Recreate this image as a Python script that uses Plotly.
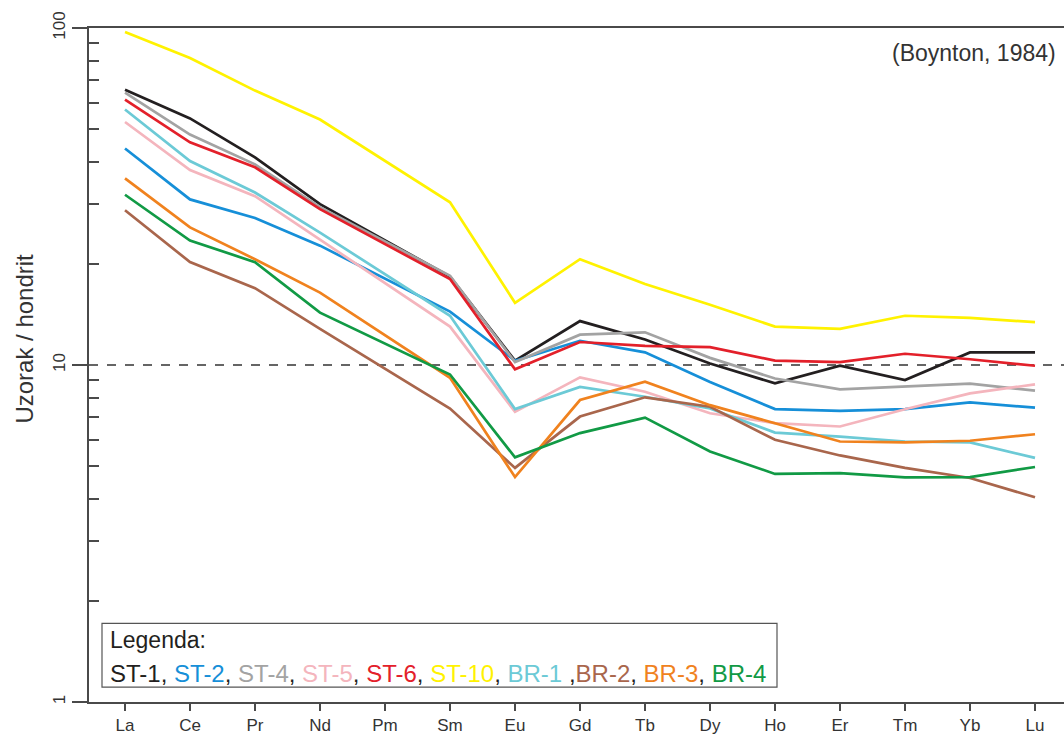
import plotly.graph_objects as go

elements = ["La", "Ce", "Pr", "Nd", "Pm", "Sm", "Eu", "Gd", "Tb", "Dy", "Ho", "Er", "Tm", "Yb", "Lu"]

st1 = [65.6, 53.9, 41.3, 30.0, None, 18.3, 10.3, 13.5, 11.9, 10.1, 8.82, 9.95, 9.02, 10.9, 10.9]
st2 = [43.9, 31.0, 27.3, 22.6, None, 14.4, 10.3, 11.8, 10.9, 8.9, 7.40, 7.31, 7.40, 7.75, 7.47]
st4 = [64.3, 48.3, 39.4, 29.4, None, 18.4, 10.2, 12.3, 12.5, 10.5, 9.12, 8.47, 8.62, 8.80, 8.39]
st5 = [52.6, 37.9, 31.7, 23.6, None, 13.0, 7.26, 9.19, 8.33, 7.19, 6.72, 6.57, 7.39, 8.24, 8.76]
st6 = [61.3, 45.8, 38.6, 29.0, None, 18.0, 9.71, 11.7, 11.4, 11.3, 10.3, 10.2, 10.8, 10.4, 9.95]
st10 = [97.3, 81.5, 65.2, 53.5, None, 30.4, 15.3, 20.6, 17.4, 15.1, 13.0, 12.8, 14.0, 13.8, 13.4]
br1 = [57.3, 40.3, 32.5, 24.7, None, 14.0, 7.40, 8.61, 8.05, 7.43, 6.30, 6.13, 5.93, 5.89, 5.30]
br2 = [28.8, 20.2, 16.9, 12.8, None, 7.43, 4.95, 7.03, 8.02, 7.52, 6.00, 5.39, 4.95, 4.62, 4.05]
br3 = [35.8, 25.6, 20.6, 16.4, None, 9.16, 4.65, 7.87, 8.92, 7.60, 6.72, 5.93, 5.89, 5.96, 6.23]
br4 = [32.0, 23.4, 20.2, 14.3, None, 9.37, 5.32, 6.28, 6.98, 5.54, 4.75, 4.78, 4.64, 4.65, 4.98]

names = ["ST-1", "ST-2", "ST-4", "ST-5", "ST-6", "ST-10", "BR-1", "BR-2", "BR-3", "BR-4"]
series = [st1, st2, st4, st5, st6, st10, br1, br2, br3, br4]
colors = ["#231f20", "#168fd8", "#a3a3a3", "#f4b5bd", "#e3202a", "#fff200",
          "#6ccad6", "#a9664c", "#f0821e", "#119a45"]

FONT = "Liberation Sans, Arial, sans-serif"

fig = go.Figure()
for nm, vals, col in zip(names, series, colors):
    fig.add_trace(go.Scatter(
        x=elements, y=vals, name=nm, mode="lines", connectgaps=True,
        line=dict(color=col, width=2.7), showlegend=False,
    ))

# reference line at 10
fig.add_shape(type="line", xref="paper", x0=0, x1=1, yref="y", y0=10, y1=10,
              line=dict(color="#333333", width=1.5, dash="dash"), layer="below")

fig.update_xaxes(
    type="category", categoryorder="array", categoryarray=elements,
    range=[-0.554, 14.446],
    showline=True, linecolor="#4a4a4a", linewidth=2, mirror=True,
    ticks="outside", ticklen=7, tickwidth=1.5, tickcolor="#4a4a4a",
    tickfont=dict(family=FONT, size=17, color="#333333"),
    showgrid=False, zeroline=False,
)
fig.update_yaxes(
    type="log", range=[0, 2],
    tickvals=[1, 10, 100], ticktext=["1", "10", "100"],
    tickangle=-90,
    showline=True, linecolor="#4a4a4a", linewidth=2, mirror=False,
    ticks="outside", ticklen=15, tickwidth=1.5, tickcolor="#4a4a4a",
    tickfont=dict(family=FONT, size=17, color="#333333"),
    minor=dict(ticks="inside", ticklen=10, tickwidth=1.5, tickcolor="#4a4a4a",
               tickvals=[2, 3, 4, 5, 6, 7, 8, 9, 20, 30, 40, 50, 60, 70, 80, 90],
               showgrid=False),
    showgrid=False, zeroline=False,
)

# y axis title
fig.add_annotation(text="Uzorak / hondrit", xref="paper", yref="paper",
                   x=(25 - 89) / 975, y=(705 - 340) / 677, textangle=-90, showarrow=False,
                   font=dict(family=FONT, size=24, color="#333333"),
                   xanchor="center", yanchor="middle")

# reference
fig.add_annotation(text="(Boynton, 1984)", xref="paper", yref="paper",
                   x=(1058 - 89) / 975, y=(705 - 53) / 677, showarrow=False,
                   xanchor="right", yanchor="middle",
                   font=dict(family=FONT, size=23, color="#333333"))

# legend box
fig.add_shape(type="rect", xref="paper", yref="paper",
              x0=(102 - 89) / 975, x1=(777 - 89) / 975,
              y0=(705 - 690) / 677, y1=(705 - 626) / 677,
              line=dict(color="#555555", width=1.2), fillcolor="rgba(0,0,0,0)")
fig.add_annotation(text="Legenda:", xref="paper", yref="paper",
                   x=(108 - 89) / 975, y=(705 - 643) / 677, showarrow=False,
                   xanchor="left", yanchor="middle",
                   font=dict(family=FONT, size=23, color="#231f20"))
parts = []
seps = [", "] * 6 + [" ,", ", ", ", ", ""]
for nm, col, sep in zip(names, colors, seps):
    parts.append(f"<span style='color:{col}'>{nm}</span>")
    if sep:
        parts.append(f"<span style='color:#231f20'>{sep}</span>")
fig.add_annotation(text="".join(parts), xref="paper", yref="paper",
                   x=(108 - 89) / 975, y=(705 - 676) / 677, showarrow=False,
                   xanchor="left", yanchor="middle",
                   font=dict(family=FONT, size=24, color="#231f20"))

fig.update_layout(
    width=1064, height=735,
    margin=dict(l=89, r=0, t=28, b=30),
    plot_bgcolor="white", paper_bgcolor="white",
    font=dict(family=FONT),
)

fig.write_html("out.html", config={"displayModeBar": False},
               post_script="document.body.style.margin='0';document.body.style.overflow='hidden';")
